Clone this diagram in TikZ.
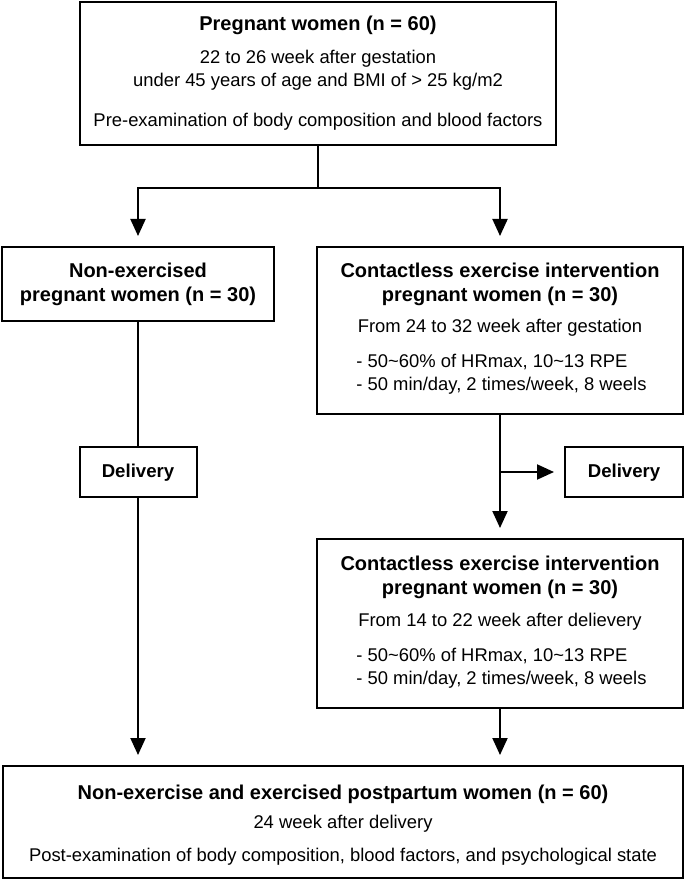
\documentclass[tikz,border=0pt]{standalone}
\usepackage{fontspec}
\setmainfont{Liberation Sans}
\usepackage{tikz}
\usetikzlibrary{arrows.meta,positioning,calc}

\tikzset{
  box/.style={draw, line width=1pt, inner sep=0pt, outer sep=0pt, anchor=north west},
  title/.style={font=\fontsize{10}{12}\selectfont\bfseries, anchor=base, inner sep=0pt},
  txt/.style={font=\fontsize{9.2}{11.5}\selectfont, anchor=base, inner sep=0pt},
  item/.style={txt, anchor=base west},
  arr/.style={line width=1pt, -{Triangle[length=8.5pt,width=7.5pt]}, shorten >=5.5pt}
}

\begin{document}
\begin{tikzpicture}[x=0.5pt,y=-0.5pt]
    \useasboundingbox (0,0) rectangle (685,881);

    % Boxes
    \node[box, minimum width=238pt, minimum height=71.5pt] (pregnant) at (80,2) {};
    \node[box, minimum width=136pt, minimum height=37pt] (nonex) at (2,247) {};
    \node[box, minimum width=183pt, minimum height=83.5pt] (interv1) at (317,247) {};
    \node[box, minimum width=58.5pt, minimum height=25pt] (delivL) at (79.5,447) {};
    \node[box, minimum width=59pt, minimum height=25pt] (delivR) at (565,447) {};
    \node[box, minimum width=183pt, minimum height=84.5pt] (interv2) at (317,539) {};
    \node[box, minimum width=340pt, minimum height=56pt] (post) at (3,766) {};

    % Top box text
    \node[title] (pregnant-t) at (318,31) {Pregnant women (n = 60)};
    \node[txt] (pregnant-a) at (318,63.5) {22 to 26 week after gestation};
    \node[txt] (pregnant-b) at (318,86.5) {under 45 years of age and BMI of > 25 kg/m2};
    \node[txt] (pregnant-c) at (318,126.5) {Pre-examination of body composition and blood factors};

    % Non-exercised group
    \node[title] (nonex-t1) at (138,278) {Non-exercised};
    \node[title] (nonex-t2) at (138,302) {pregnant women (n = 30)};
    \node[title, font=\fontsize{9.3}{11}\selectfont\bfseries] (delivL-t) at (138,477.5) {Delivery};

    % Exercise group, during pregnancy
    \node[title] (interv1-t1) at (500,278) {Contactless exercise intervention};
    \node[title] (interv1-t2) at (500,302) {pregnant women (n = 30)};
    \node[txt] (interv1-a) at (500,332.5) {From 24 to 32 week after gestation};
    \node[item] (interv1-b) at (356,367.5) {- 50\textasciitilde60\% of HRmax, 10\textasciitilde13 RPE};
    \node[item] (interv1-c) at (356,390.5) {- 50 min/day, 2 times/week, 8 weels};
    \node[title, font=\fontsize{9.3}{11}\selectfont\bfseries] (delivR-t) at (624,477.5) {Delivery};

    % Exercise group, after delivery
    \node[title] (interv2-t1) at (500,570) {Contactless exercise intervention};
    \node[title] (interv2-t2) at (500,594) {pregnant women (n = 30)};
    \node[txt] (interv2-a) at (500,626.5) {From 14 to 22 week after delievery};
    \node[item] (interv2-b) at (356,661.5) {- 50\textasciitilde60\% of HRmax, 10\textasciitilde13 RPE};
    \node[item] (interv2-c) at (356,684.5) {- 50 min/day, 2 times/week, 8 weels};

    % Bottom box text
    \node[title] (post-t) at (343,799) {Non-exercise and exercised postpartum women (n = 60)};
    \node[txt] (post-a) at (343,828.5) {24 week after delivery};
    \node[txt] (post-b) at (343,861.5) {Post-examination of body composition, blood factors, and psychological state};

    % Connectors
    \coordinate (split) at (318,188);
    \draw[line width=1pt] (pregnant.south) -- (split);
    \draw[arr] (split) -| (nonex.north);
    \draw[arr] (split) -| (interv1.north);

    \draw[line width=1pt] (nonex.south) -- (delivL.north);
    \draw[arr] (delivL.south) -- (delivL.south |- post.north);

    \coordinate (branch) at (interv1.south |- delivR.west);
    \draw[arr] (interv1.south) -- (interv2.north);
    \draw[arr] (branch) -- (delivR.west);
    \draw[arr] (interv2.south) -- (interv2.south |- post.north);
\end{tikzpicture}
\end{document}
